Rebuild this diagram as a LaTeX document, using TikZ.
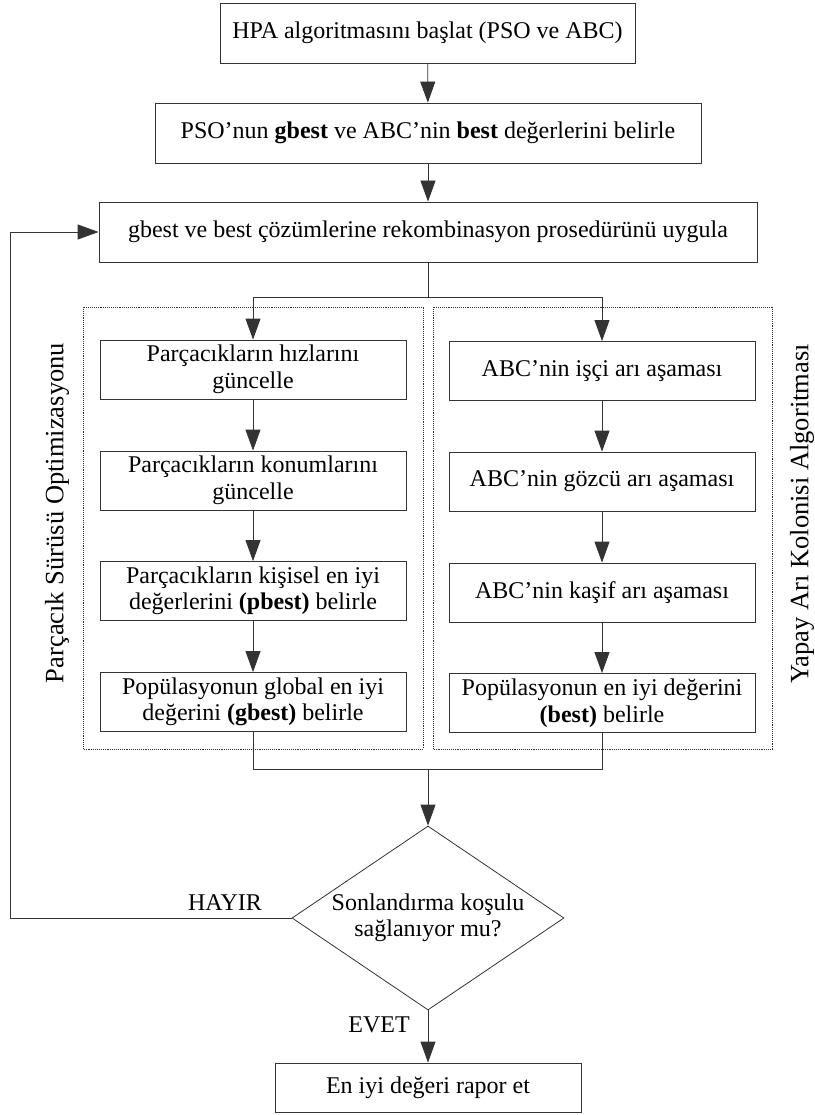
\documentclass[tikz,border=0pt]{standalone}
\usepackage{fontspec}
\setmainfont{Liberation Serif}
\usetikzlibrary{arrows.meta,shapes.geometric}
\tikzset{
  box/.style={draw=black!80, line width=0.8pt, rectangle, inner sep=0pt, align=center,
    font=\fontsize{24}{26.5}\selectfont},
  grp/.style={draw=black!80, line width=0.9pt, densely dotted},
  conn/.style={draw=black!80, line width=0.8pt},
  arr/.style={conn, -{Triangle[length=21pt,width=15pt]}},
  lbl/.style={font=\fontsize{24}{26}\selectfont, inner sep=0pt},
  side/.style={font=\fontsize{26.5}{30}\selectfont, inner sep=0pt, rotate=90},
}
\begin{document}
\begin{tikzpicture}[x=1pt,y=-1pt]
\useasboundingbox (0,0) rectangle (814,1115);
% top boxes
\node[box, minimum width=415pt, minimum height=60pt] (b1) at (427.5,33) {HPA algoritmasını başlat (PSO ve ABC)};
\node[box, minimum width=546pt, minimum height=60pt] (b2) at (428,133) {PSO’nun \textbf{gbest} ve ABC’nin \textbf{best} değerlerini belirle};
\node[box, minimum width=658pt, minimum height=60pt] (b3) at (428,232) {gbest ve best çözümlerine rekombinasyon prosedürünü uygula};
% group frames
\draw[grp] (83,307) rectangle (423,749);
\draw[grp] (433,307) rectangle (772,749);
\node[side] (pso) at (57,513) {Parçacık Sürüsü Optimizasyonu};
\node[side] (abc) at (802,514) {Yapay Arı Kolonisi Algoritması};
% left column
\node[box, minimum width=306pt, minimum height=59pt] (l1) at (253,369.5) {Parçacıkların hızlarını\\güncelle};
\node[box, minimum width=306pt, minimum height=59pt] (l2) at (253,480.5) {Parçacıkların konumlarını\\güncelle};
\node[box, minimum width=306pt, minimum height=59pt] (l3) at (253,591) {Parçacıkların kişisel en iyi\\değerlerini \textbf{(pbest)} belirle};
\node[box, minimum width=306pt, minimum height=59pt] (l4) at (253,702) {Popülasyonun global en iyi\\değerini \textbf{(gbest)} belirle};
% right column
\node[box, minimum width=306pt, minimum height=59pt] (r1) at (602,371) {ABC’nin işçi arı aşaması};
\node[box, minimum width=306pt, minimum height=59pt] (r2) at (602,481.5) {ABC’nin gözcü arı aşaması};
\node[box, minimum width=306pt, minimum height=59pt] (r3) at (602,592.5) {ABC’nin kaşif arı aşaması};
\node[box, minimum width=306pt, minimum height=59pt] (r4) at (602,703) {Popülasyonun en iyi değerini\\\textbf{(best)} belirle};
% decision
\node[box, shape=diamond, aspect=1.478, minimum width=272pt, minimum height=184pt] (d) at (428,918) {Sonlandırma koşulu\\sağlanıyor mu?};
\node[box, minimum width=306pt, minimum height=49pt] (end) at (428,1087.5) {En iyi değeri rapor et};
% coordinates
\coordinate (splitL) at (253,297);
\coordinate (splitR) at (602,297);
\coordinate (split) at (428,297);
\coordinate (joinL) at (253,769);
\coordinate (joinR) at (602,769);
\coordinate (join) at (428,769);
\coordinate (fbB) at (10,918);
\coordinate (fbT) at (10,232);
% connectors
\draw[arr] (b1) -- (b2);
\draw[arr] (b2) -- (b3);
\draw[conn] (b3.south) -- (split);
\draw[arr] (split) -| (l1.north);
\draw[arr] (split) -| (r1.north);
\draw[arr] (l1) -- (l2);
\draw[arr] (l2) -- (l3);
\draw[arr] (l3) -- (l4);
\draw[arr] (r1) -- (r2);
\draw[arr] (r2) -- (r3);
\draw[arr] (r3) -- (r4);
\draw[conn] (l4.south) -- (joinL) -- (joinR) -- (r4.south);
\draw[arr] (join) -- (d.north);
\draw[arr] (d.west) -- (fbB) -- (fbT) -- (b3.west);
\draw[arr] (d.south) -- (end.north);
\node[lbl] (hayir) at (225,903) {HAYIR};
\node[lbl] (evet) at (379,1025) {EVET};
\end{tikzpicture}
\end{document}
